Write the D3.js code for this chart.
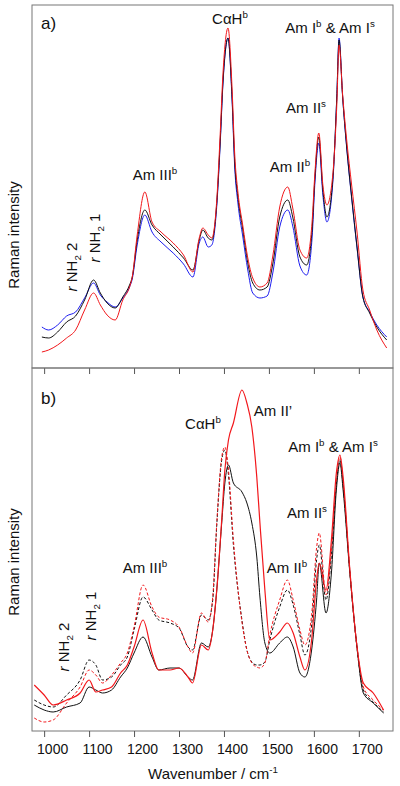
<!DOCTYPE html>
<html><head><meta charset="utf-8">
<script src="https://cdn.jsdelivr.net/npm/d3@7/dist/d3.min.js"></script>
<style>
html,body{margin:0;padding:0;background:#fff;}
svg{display:block;font-family:"Liberation Sans",Arial,sans-serif;}
</style></head>
<body>
<svg id="chart" width="400" height="786"></svg>
<script>
// ---------- DATA (intensity in arbitrary units) ----------
const xTicks = [1000, 1100, 1200, 1300, 1400, 1500, 1600, 1700];

// panel a
const wavenumberA = [995,1010,1030,1050,1070,1090,1110,1125,1140,1158,1175,1190,1196,1207,1224,1240,1260,1287,1310,1331,1345,1353,1365,1373,1384,1391,1398,1409,1418,1424,1431,1442,1453,1464,1480,1496,1509,1524,1542,1553,1569,1584,1596,1602,1611,1620,1629,1642,1651,1656,1664,1673,1684,1696,1709,1724,1740,1762];
const blackA = [31,30,36,46,52,68,88,75,65,60,71,83,91,128,158,143,133,121,110,98,128,138,130,128,165,221,288,330,271,205,171,138,105,85,78,81,105,151,168,151,111,103,138,188,231,178,151,188,271,328,271,221,171,121,71,55,41,28];
const blueA  = [41,38,43,52,56,70,85,73,66,61,70,81,89,123,153,136,126,115,104,91,125,131,121,123,162,218,286,330,268,200,165,131,98,75,70,72,96,141,158,142,102,93,130,183,225,173,146,185,271,330,271,220,170,120,71,56,43,31];
const redA   = [16,18,23,30,38,58,75,63,53,48,68,81,91,133,176,146,136,125,113,96,130,140,133,130,168,228,296,340,280,213,176,142,110,90,81,85,113,161,181,160,118,110,146,193,235,183,163,193,263,323,273,228,183,136,78,58,38,20];

// panel b
const wavenumberB = [978,1000,1020,1050,1080,1100,1115,1130,1150,1170,1185,1200,1220,1240,1255,1280,1300,1320,1330,1350,1365,1375,1384,1395,1402,1410,1421,1440,1451,1462,1473,1480,1491,1502,1524,1541,1554,1569,1580,1595,1606,1612,1627,1639,1650,1658,1665,1680,1695,1710,1732,1755];
const blackSolidB  = [26,21,19,24,28,44,41,38,41,54,63,78,94,74,61,63,63,54,51,88,84,101,141,208,248,266,248,239,228,208,174,134,88,78,88,94,84,58,54,81,131,168,118,158,241,268,241,158,88,38,28,18];
const blackDashedB = [31,26,24,36,51,71,66,51,54,66,74,101,134,121,111,108,103,84,81,116,111,131,206,271,281,256,186,111,81,69,66,66,69,91,124,141,126,96,76,106,171,186,131,176,246,271,246,159,86,41,29,19];
const redSolidB    = [46,36,26,31,38,51,39,41,44,58,66,84,111,78,61,61,63,54,48,86,81,101,141,211,261,291,308,341,328,304,254,208,141,91,99,108,98,74,61,91,151,168,141,191,258,276,254,161,88,48,38,21];
const redDashedB   = [13,9,11,28,44,61,56,48,56,68,78,104,146,124,114,111,104,84,78,118,109,134,208,274,284,261,191,109,81,68,64,63,68,96,131,151,131,101,86,116,183,198,136,181,248,274,248,161,88,44,31,21];

// ---------- LAYOUT ----------
const svg = d3.select("#chart");
const left = 32, right = 393;
const panels = [
  {top: 5, bottom: 368, ymax: 363},
  {top: 368, bottom: 731, ymax: 363}
];
const RED = "#f2171b", BLUE = "#1c1cf0", BLACK = "#111";
const x = d3.scaleLinear().domain([973, 1776]).range([left, right]);

function drawPanel(p, xs, series, showLabels){
  const y = d3.scaleLinear().domain([0, p.ymax]).range([p.bottom, p.top]);
  const g = svg.append("g");
  const line = d3.line().x((d,i)=>x(xs[i])).y(d=>y(d)).curve(d3.curveMonotoneX);
  series.forEach(s=>{
    g.append("path").datum(s.values)
      .attr("d", line).attr("fill","none")
      .attr("stroke", s.color).attr("stroke-width", s.width || 1)
      .attr("stroke-dasharray", s.dash || null);
  });
  g.append("rect").attr("x", left).attr("y", p.top)
    .attr("width", right-left).attr("height", p.bottom-p.top)
    .attr("fill","none").attr("stroke","#777").attr("stroke-width",1);
  const ax = g.append("g").attr("transform", `translate(0,${p.bottom})`)
    .call(d3.axisBottom(x).tickValues(xTicks).tickSize(6).tickSizeOuter(0)
      .tickFormat(showLabels ? d3.format("d") : ""));
  ax.select(".domain").remove();
  ax.selectAll(".tick line").attr("stroke","#555");
  ax.selectAll(".tick text").attr("font-size",14).attr("fill","#111")
    .attr("font-family","'Liberation Sans',Arial,sans-serif")
    .attr("dx", 8).attr("dy", "1.0em");
}

drawPanel(panels[0], wavenumberA, [
  {values: blueA, color: BLUE},
  {values: blackA, color: BLACK},
  {values: redA, color: RED}
], false);

drawPanel(panels[1], wavenumberB, [
  {values: blackDashedB, color: BLACK, dash: "3,2"},
  {values: redDashedB, color: RED, dash: "3,2"},
  {values: blackSolidB, color: BLACK},
  {values: redSolidB, color: RED, width: 1.2}
], true);

// rich text helper: parts = [[text, style]] style: n, sup, sub, i
function rich(x0, y0, parts, opts={}){
  const fs = opts.size || 15;
  const t = svg.append("text").attr("x", x0).attr("y", y0)
    .attr("font-size", fs).attr("fill", "#111")
    .attr("text-anchor", opts.anchor || "middle");
  if (opts.rotate) t.attr("transform", `rotate(-90,${x0},${y0})`);
  let shift = 0;
  parts.forEach(([txt, st])=>{
    const ts = t.append("tspan").text(txt);
    let target = 0;
    if (st === "sup") { target = -0.38*fs; ts.attr("font-size", fs*0.65); }
    if (st === "sub") { target = 0.25*fs; ts.attr("font-size", fs*0.65); }
    if (st === "i") ts.attr("font-style","italic");
    ts.attr("dy", target - shift);
    shift = target;
  });
  return t;
}

// panel letters
rich(41, 29, [["a)","n"]], {size:17, anchor:"start"});
rich(41, 404, [["b)","n"]], {size:17, anchor:"start"});

// panel a annotations
rich(230, 24, [["CαH","n"],["b","sup"]]);
rich(330, 33, [["Am I","n"],["b","sup"],[" & Am I","n"],["s","sup"]]);
rich(306, 113, [["Am II","n"],["s","sup"]]);
rich(290, 172, [["Am II","n"],["b","sup"]]);
rich(155, 180, [["Am III","n"],["b","sup"]]);
rich(77, 267, [["r","i"],[" NH","n"],["2","sub"],[" 2","n"]], {rotate:true});
rich(100, 238, [["r","i"],[" NH","n"],["2","sub"],[" 1","n"]], {rotate:true});

// panel b annotations
rich(203, 429, [["CαH","n"],["b","sup"]]);
rich(273, 416, [["Am II’","n"]]);
rich(333, 452, [["Am I","n"],["b","sup"],[" & Am I","n"],["s","sup"]]);
rich(307, 518, [["Am II","n"],["s","sup"]]);
rich(287, 573, [["Am II","n"],["b","sup"]]);
rich(145, 573, [["Am III","n"],["b","sup"]]);
rich(69, 647, [["r","i"],[" NH","n"],["2","sub"],[" 2","n"]], {rotate:true});
rich(96, 616, [["r","i"],[" NH","n"],["2","sub"],[" 1","n"]], {rotate:true});

// axis titles
rich(19, 235, [["Raman intensity","n"]], {rotate:true});
rich(19, 562, [["Raman intensity","n"]], {rotate:true});
rich(213, 779, [["Wavenumber / cm","n"],["-1","sup"]]);
</script>
</body></html>
